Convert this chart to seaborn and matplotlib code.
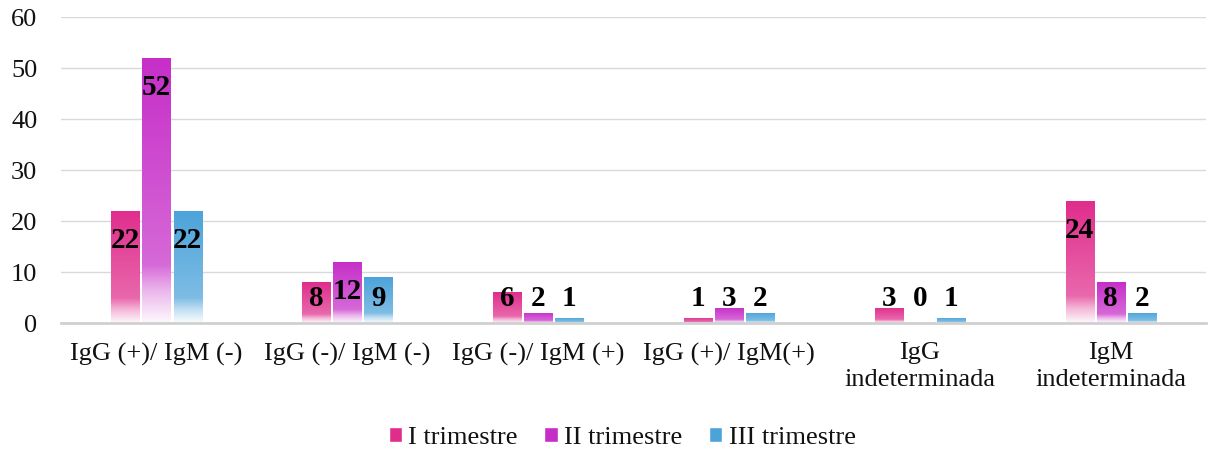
import numpy as np
import pandas as pd
import matplotlib.pyplot as plt
import matplotlib.colors as mcolors
from matplotlib.patches import Patch
import seaborn as sns

categorias = ['IgG (+)/ IgM (-)', 'IgG (-)/ IgM (-)', 'IgG (-)/ IgM (+)',
              'IgG (+)/ IgM(+)', 'IgG\nindeterminada', 'IgM\nindeterminada']
trimestres = ['I trimestre', 'II trimestre', 'III trimestre']
t1 = [22, 8, 6, 1, 3, 24]
t2 = [52, 12, 2, 3, 0, 8]
t3 = [22, 9, 1, 2, 1, 2]
colores = ['#E02D8C', '#C62EC8', '#4CA3DA']

df = pd.DataFrame({
    'categoria': categorias * 3,
    'trimestre': np.repeat(trimestres, len(categorias)),
    'valor': t1 + t2 + t3,
})

sns.set_style('white')
plt.rcParams['font.family'] = ['Liberation Serif', 'DejaVu Serif']

fig = plt.figure(figsize=(12.08, 4.55), dpi=100)
ax = fig.add_axes([0.0505, 0.29, 0.948, 0.6726])

sns.barplot(data=df, x='categoria', y='valor', hue='trimestre', order=categorias,
            hue_order=trimestres, palette=colores, width=0.49, gap=0.1,
            legend=False, ax=ax)


def gradiente(color):
    # color lleno arriba, se aclara hacia abajo y termina casi blanco
    c = np.array(mcolors.to_rgb(color))
    w = np.ones(3)
    t = np.linspace(0, 1, 200)
    mezcla = np.interp(t, [0, 0.78, 0.88, 1.0], [0.0, 0.28, 0.65, 0.97])
    img = c[None, :] * (1 - mezcla[:, None]) + w[None, :] * mezcla[:, None]
    return img[:, None, :]


for cont, color in zip(ax.containers, colores):
    img = gradiente(color)
    for bar, v in zip(cont, cont.datavalues):
        x0, w, h = bar.get_x(), bar.get_width(), bar.get_height()
        bar.set_facecolor('none')
        bar.set_edgecolor('none')
        if h > 0:
            im = ax.imshow(img, extent=[x0, x0 + w, 0, h], aspect='auto',
                           origin='upper', zorder=2, interpolation='bilinear')
            im.set_clip_path(bar)
        ax.text(x0 + w / 2, max(v - 5.9, 4.9), f'{v:g}', ha='center', va='center',
                fontsize=21, fontweight='bold', color='black', zorder=3)

ax.set_xlim(-0.5, len(categorias) - 0.5)
ax.set_ylim(0, 60)
ax.set_yticks(range(0, 61, 10))
ax.set_xlabel('')
ax.set_ylabel('')
ax.grid(axis='y', color='#d9d9d9', linewidth=1)
ax.set_axisbelow(True)
for s in ['top', 'right', 'left']:
    ax.spines[s].set_visible(False)
ax.spines['bottom'].set_color('#d0d0d0')
ax.spines['bottom'].set_linewidth(2)
ax.tick_params(axis='both', length=0, labelsize=19, labelcolor='#111111')
ax.tick_params(axis='x', pad=14)
ax.tick_params(axis='y', pad=17)
for lab in ax.get_xticklabels():
    lab.set_linespacing(1.25)

handles = [Patch(facecolor=c) for c in colores]
leg = fig.legend(handles, trimestres, loc='center', bbox_to_anchor=(0.515, 0.037), ncol=3,
                 frameon=False, fontsize=19, handlelength=0.5, handleheight=0.5,
                 handletextpad=0.25, columnspacing=1.0)
for txt in leg.get_texts():
    txt.set_color('#111111')

fig.savefig('out.png', dpi=100)
